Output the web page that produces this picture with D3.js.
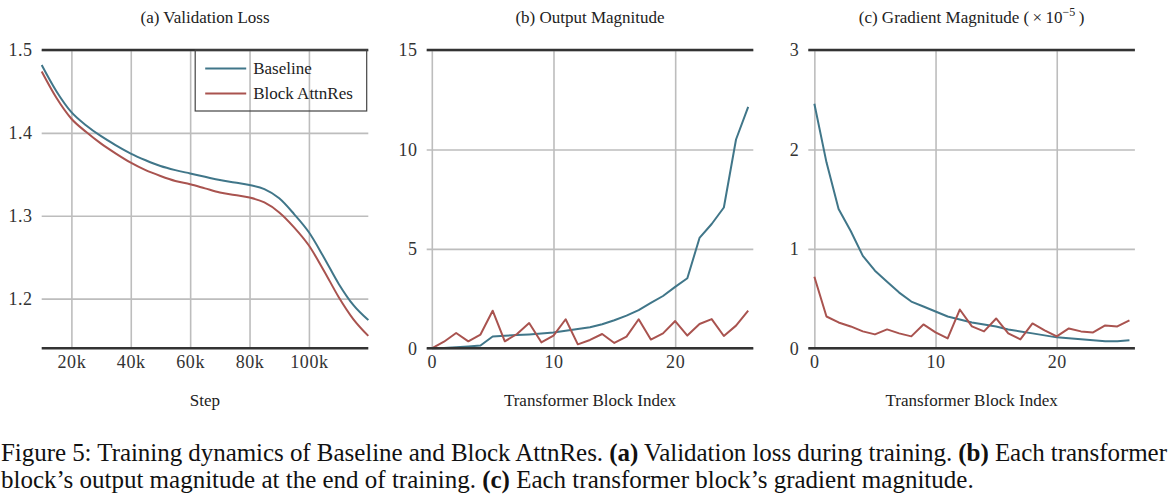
<!DOCTYPE html>
<html>
<head>
<meta charset="utf-8">
<script src="https://cdn.jsdelivr.net/npm/d3@7"></script>
<style>
  body { margin: 0; background: #fff; }
  svg { display: block; font-family: "Liberation Serif", "DejaVu Serif", serif; }
  .grid line { stroke: #bdbdbd; stroke-width: 1.6px; }
  .frame { stroke: #333; stroke-width: 2.6px; }
  .line { fill: none; stroke-width: 2px; stroke-linejoin: round; }
  .title, .axisLabel, .legend text { fill: #222; font-size: 17px; }
  .caption { fill: #111; font-size: 25px; }
</style>
</head>
<body>
<div id="chart"></div>
<script>
// series names and colours
const seriesNames = ['Baseline', 'Block AttnRes'];
const seriesColors = ['#407689', '#a9534f'];

const steps = [10000, 15000, 20000, 25000, 30000, 35000, 40000, 45000, 50000, 55000, 60000, 65000,
  70000, 75000, 80000, 85000, 90000, 95000, 100000, 105000, 110000, 115000, 120000];
const lossBaseline = [1.482, 1.450, 1.425, 1.409, 1.396, 1.385, 1.375, 1.367, 1.360, 1.355, 1.351, 1.347,
  1.343, 1.340, 1.337, 1.332, 1.321, 1.302, 1.280, 1.250, 1.218, 1.192, 1.174];
const lossBlock = [1.474, 1.442, 1.417, 1.401, 1.387, 1.375, 1.364, 1.355, 1.348, 1.342, 1.338, 1.333,
  1.328, 1.325, 1.322, 1.316, 1.304, 1.286, 1.264, 1.234, 1.202, 1.175, 1.155];

// (b) and (c) per transformer block 0..26
const blockIndex = d3.range(27);
const outBaseline = [0.00, 0.02, 0.05, 0.09, 0.14, 0.59, 0.63, 0.67, 0.70, 0.74, 0.79, 0.88, 0.97, 1.06,
  1.21, 1.41, 1.64, 1.92, 2.28, 2.63, 3.09, 3.52, 5.55, 6.25, 7.08, 10.5, 12.14];
const outBlock = [0.00, 0.33, 0.77, 0.35, 0.69, 1.89, 0.35, 0.72, 1.27, 0.30, 0.64, 1.46, 0.20, 0.42,
  0.72, 0.27, 0.59, 1.46, 0.44, 0.75, 1.37, 0.64, 1.22, 1.47, 0.62, 1.14, 1.89];
const gradBaseline = [2.46, 1.87, 1.40, 1.18, 0.93, 0.78, 0.67, 0.56, 0.47, 0.42, 0.37, 0.32, 0.29, 0.26,
  0.24, 0.22, 0.19, 0.17, 0.15, 0.13, 0.11, 0.10, 0.09, 0.08, 0.07, 0.07, 0.08];
const gradBlock = [0.72, 0.32, 0.26, 0.22, 0.17, 0.14, 0.19, 0.15, 0.12, 0.24, 0.16, 0.10, 0.39, 0.22,
  0.17, 0.30, 0.15, 0.09, 0.25, 0.18, 0.12, 0.20, 0.17, 0.16, 0.23, 0.22, 0.28];

// tick values
const stepTicks = [20000, 40000, 60000, 80000, 100000];
const lossTicks = [1.2, 1.3, 1.4, 1.5];
const indexTicks = [0, 10, 20];
const outTicks = [0, 5, 10, 15];
const gradTicks = [0, 1, 2, 3];

const captionLine1 = ['Figure 5: Training dynamics of Baseline and Block AttnRes. ', '(a)',
  ' Validation loss during training. ', '(b)', ' Each transformer'];
const captionLine2 = ['block\u2019s output magnitude at the end of training. ', '(c)',
  ' Each transformer block\u2019s gradient magnitude.'];

const W = 1170, H = 500;
const plotW = 326.6, plotH = 298.3, plotTop = 50;

const svg = d3.select('#chart')
  .append('svg')
    .attr('width', W)
    .attr('height', H);

// d3's axis forces sans-serif 10px; put the serif tick labels back
function styleTicks(a) {
  a.attr('font-family', null);
  a.select('.domain').remove();
  a.selectAll('text')
      .style('font-family', '"Liberation Serif", serif')
      .style('font-size', '18px')
      .style('letter-spacing', '0.6px')
      .style('fill', '#333');
}

// draws one panel; returns the group so extra bits (legend) can be added
function panel(opts) {
  const g = svg.append('g')
      .attr('transform', 'translate(' + opts.left + ',' + plotTop + ')');

  const x = d3.scaleLinear().domain(opts.xDomain).range([0, plotW]);
  const y = d3.scaleLinear().domain(opts.yDomain).range([plotH, 0]);

  // gridlines come from the axes themselves
  g.append('g')
      .attr('class', 'grid')
      .attr('transform', 'translate(0,' + plotH + ')')
      .call(d3.axisBottom(x).tickValues(opts.xTicks).tickFormat(opts.xFormat)
        .tickSize(-plotH).tickPadding(7))
      .call(styleTicks);

  g.append('g')
      .attr('class', 'grid')
      .call(d3.axisLeft(y).tickValues(opts.yTicks).tickFormat(opts.yFormat)
        .tickSize(-plotW).tickPadding(9))
      .call(styleTicks);

  const line = d3.line()
      .x((d, i) => x(opts.xs[i]))
      .y(d => y(d))
      .curve(opts.curve || d3.curveLinear);

  opts.series.forEach((s, i) => {
    g.append('path')
        .attr('class', 'line')
        .attr('d', line(s))
        .style('stroke', seriesColors[i]);
  });

  // top and bottom rules only
  [0, plotH].forEach(yy => {
    g.append('line')
        .attr('class', 'frame')
        .attr('x1', 0).attr('x2', plotW)
        .attr('y1', yy).attr('y2', yy);
  });

  const title = g.append('text')
      .attr('class', 'title')
      .attr('x', plotW / 2)
      .attr('y', 23 - plotTop)
      .attr('text-anchor', 'middle');
  opts.title(title);

  g.append('text')
      .attr('class', 'axisLabel')
      .attr('x', plotW / 2)
      .attr('y', 406 - plotTop)
      .attr('text-anchor', 'middle')
      .text(opts.xLabel);

  return g;
}

const gA = panel({
  left: 41.7,
  xDomain: [10000, 120000], yDomain: [1.14, 1.5],
  xTicks: stepTicks, yTicks: lossTicks,
  xFormat: d => (d / 1000) + 'k', yFormat: d3.format('.1f'),
  xs: steps, series: [lossBaseline, lossBlock],
  curve: d3.curveMonotoneX,
  title: t => t.text('(a) Validation Loss'),
  xLabel: 'Step'
});

panel({
  left: 426.7,
  xDomain: [-0.42, 26.42], yDomain: [0, 15],
  xTicks: indexTicks, yTicks: outTicks,
  xFormat: d3.format('d'), yFormat: d3.format('d'),
  xs: blockIndex, series: [outBaseline, outBlock],
  title: t => t.text('(b) Output Magnitude'),
  xLabel: 'Transformer Block Index'
});

panel({
  left: 808.3,
  xDomain: [-0.5, 26.45], yDomain: [0, 3],
  xTicks: indexTicks, yTicks: gradTicks,
  xFormat: d3.format('d'), yFormat: d3.format('d'),
  xs: blockIndex, series: [gradBaseline, gradBlock],
  title: t => {
    t.append('tspan').text('(c) Gradient Magnitude (\u2009\u00d7\u200910');
    t.append('tspan').attr('dy', -7).style('font-size', '12px').text('\u22125');
    t.append('tspan').attr('dy', 7).text('\u2009)');
  },
  xLabel: 'Transformer Block Index'
});

// legend in panel (a), no fill so the grid shows through
const legend = gA.append('g')
    .attr('class', 'legend')
    .attr('transform', 'translate(153.5,0)');

legend.append('rect')
    .attr('width', 171.5)
    .attr('height', 61)
    .attr('fill', 'none')
    .attr('stroke', '#444')
    .attr('stroke-width', 1.2);

seriesNames.forEach((name, i) => {
  const yy = 18.5 + i * 25;
  legend.append('line')
      .attr('x1', 10).attr('x2', 51)
      .attr('y1', yy).attr('y2', yy)
      .style('stroke', seriesColors[i])
      .style('stroke-width', 2);
  legend.append('text')
      .attr('x', 58)
      .attr('y', yy)
      .attr('dy', '0.32em')
      .text(name);
});

// caption under the figure
function captionLine(parts, yy, len) {
  const t = svg.append('text')
      .attr('class', 'caption')
      .attr('x', 1)
      .attr('y', yy);
  if (len) t.attr('textLength', len).attr('lengthAdjust', 'spacing');
  parts.forEach(p => {
    t.append('tspan')
        .style('font-weight', /^\([abc]\)$/.test(p) ? 'bold' : null)
        .text(p);
  });
}
captionLine(captionLine1, 461, 1166);
captionLine(captionLine2, 488);
</script>
</body>
</html>
